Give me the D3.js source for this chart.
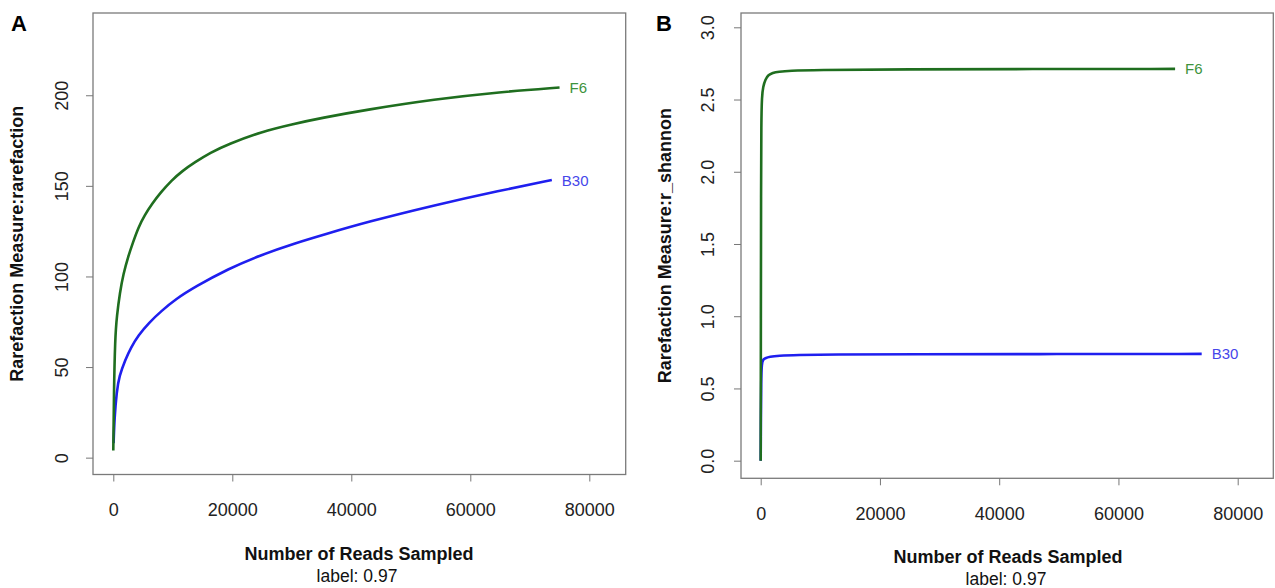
<!DOCTYPE html>
<html lang="en">

<head>
    <meta charset="UTF-8">
    <title>Rarefaction curves</title>
    <script src="https://d3js.org/d3.v7.min.js"></script>
    <style>
        body {
            margin: 0;
            padding: 0;
            background: #fff;
        }

        svg {
            display: block;
            font-family: "Liberation Sans", Arial, Helvetica, sans-serif;
        }
    </style>
</head>

<body>
    <svg id="chart" width="1275" height="588"></svg>

    <script>
        // ---- data ----
        const sampleNames = ["B30", "F6"];

        // panel A: rarefaction (observed OTUs)
        const readsA_F6 = [0, 100, 300, 600, 1100, 1700, 2500, 3300, 4200, 5300, 6500, 8000, 9800, 11500, 13700, 16300, 19300, 25000, 30000, 35000, 42500, 54000, 65000, 75000];
        const valsA_F6 = [4, 35, 66, 78.3, 91, 101.5, 111, 118.7, 127, 134, 140, 146.5, 153, 158, 163, 168.3, 173, 180, 184, 187.5, 192, 197.8, 201.8, 204.3];
        const readsA_B30 = [50, 200, 570, 1000, 2000, 3000, 4200, 6000, 8100, 10500, 13700, 19300, 24900, 30500, 35600, 42600, 53800, 65000, 73700];
        const valsA_B30 = [8, 22, 36.5, 45, 54, 61, 67.5, 74.5, 81, 87.5, 94.2, 104.2, 112, 118.3, 123.3, 130, 139.2, 147.4, 153.2];

        // panel B: r_shannon
        const readsB_F6 = [0, 30, 60, 100, 200, 400, 800, 1275, 2000, 2950, 5000, 8550, 24200, 45000, 69500];
        const valsB_F6 = [0, 1.0, 1.9, 2.35, 2.52, 2.59, 2.64, 2.67, 2.685, 2.693, 2.7, 2.705, 2.709, 2.711, 2.712];
        const readsB_B30 = [0, 30, 80, 170, 400, 720, 1500, 2950, 6000, 12000, 24200, 50000, 73960];
        const valsB_B30 = [0, 0.3, 0.55, 0.674, 0.7, 0.709, 0.72, 0.727, 0.732, 0.735, 0.737, 0.738, 0.739];

        const xTicks = [0, 20000, 40000, 60000, 80000];
        const yTicksA = [0, 50, 100, 150, 200];
        const yTicksB = [0, 0.5, 1.0, 1.5, 2.0, 2.5, 3.0];

        const lineColors = { F6: "#1f6e1f", B30: "#1f1fef" };
        const labelColors = { F6: "#3d933d", B30: "#4646ea" };

        const svg = d3.select("#chart");
        const zip = (xs, ys) => xs.map((x, i) => [x, ys[i]]);

        function drawPanel(cfg) {
            const x = d3.scaleLinear().domain(cfg.xDomain).range([cfg.left, cfg.right]);
            const y = d3.scaleLinear().domain(cfg.yDomain).range([cfg.bottom, cfg.top]);
            const g = svg.append("g");

            // plot box
            g.append("rect")
                .attr("x", cfg.left).attr("y", cfg.top)
                .attr("width", cfg.right - cfg.left).attr("height", cfg.bottom - cfg.top)
                .attr("fill", "none").attr("stroke", "#7a7a7a").attr("stroke-width", 1.3);

            // x axis
            const xAxis = g.append("g")
                .attr("transform", `translate(0,${cfg.bottom})`)
                .call(d3.axisBottom(x).tickValues(xTicks).tickSize(7).tickFormat(d3.format("d")));
            xAxis.select(".domain").remove();
            xAxis.selectAll("line").attr("stroke", "#777");
            xAxis.selectAll("text")
                .attr("y", 41.5).attr("dy", null)
                .attr("fill", "#222").style("font-size", "18px");

            // y axis, labels turned like R's default
            const yAxis = g.append("g")
                .attr("transform", `translate(${cfg.left},0)`)
                .call(d3.axisLeft(y).tickValues(cfg.yTicks).tickSize(7).tickFormat(cfg.yFormat));
            yAxis.select(".domain").remove();
            yAxis.selectAll("line").attr("stroke", "#777");
            yAxis.selectAll("text")
                .attr("x", 0).attr("y", 0).attr("dy", null)
                .attr("text-anchor", "middle")
                .attr("transform", `translate(${-cfg.yLabelOffset},0) rotate(-90)`)
                .attr("fill", "#222").style("font-size", "18px");

            // curves (b-spline to smooth out reading noise)
            const line = d3.line()
                .x(d => x(d[0]))
                .y(d => y(d[1]))
                .curve(d3.curveBasis);

            cfg.series.forEach(s => {
                const pts = zip(s.reads, s.vals);
                g.append("path")
                    .datum(pts)
                    .attr("d", line)
                    .attr("fill", "none")
                    .attr("stroke", lineColors[s.name])
                    .attr("stroke-width", 2.6)
                    .attr("stroke-linejoin", "round");

                const last = pts[pts.length - 1];
                g.append("text")
                    .attr("x", x(last[0]) + 10)
                    .attr("y", y(last[1]))
                    .attr("dominant-baseline", "central")
                    .attr("fill", labelColors[s.name])
                    .style("font-size", "15px")
                    .text(s.name);
            });

            // axis titles
            const midX = cfg.titleX;
            g.append("text")
                .attr("x", midX).attr("y", cfg.bottom + 85)
                .attr("text-anchor", "middle")
                .attr("fill", "#111")
                .style("font-size", "18px").style("font-weight", "bold")
                .text("Number of Reads Sampled");
            g.append("text")
                .attr("x", midX - 2).attr("y", cfg.bottom + 107)
                .attr("text-anchor", "middle")
                .attr("fill", "#111")
                .style("font-size", "17.5px")
                .text("label: 0.97");

            g.append("text")
                .attr("transform", `translate(${cfg.left - 70},${(cfg.top + cfg.bottom) / 2}) rotate(-90)`)
                .attr("text-anchor", "middle")
                .attr("fill", "#111")
                .style("font-size", "18px").style("font-weight", "bold")
                .text(cfg.yTitle);

            // panel letter
            g.append("text")
                .attr("x", cfg.letterX).attr("y", 31)
                .attr("fill", "#000")
                .style("font-size", "22px").style("font-weight", "bold")
                .text(cfg.letter);
        }

        // B30 drawn first so F6 sits on top, as in the original
        drawPanel({
            letter: "A", letterX: 11,
            left: 93, right: 625.7, top: 13, bottom: 474.5,
            xDomain: [-3412, 86118], yDomain: [-9.3, 245.4],
            yTicks: yTicksA, yFormat: d3.format("d"), yLabelOffset: 25,
            titleX: 359,
            yTitle: "Rarefaction Measure:rarefaction",
            series: [
                { name: sampleNames[0], reads: readsA_B30, vals: valsA_B30 },
                { name: sampleNames[1], reads: readsA_F6, vals: valsA_F6 }
            ]
        });

        drawPanel({
            letter: "B", letterX: 656,
            left: 741, right: 1273.3, top: 13, bottom: 478.3,
            xDomain: [-3304, 85971], yDomain: [-0.122, 3.099],
            yTicks: yTicksB, yFormat: d3.format(".1f"), yLabelOffset: 27,
            titleX: 1008,
            yTitle: "Rarefaction Measure:r_shannon",
            series: [
                { name: sampleNames[0], reads: readsB_B30, vals: valsB_B30 },
                { name: sampleNames[1], reads: readsB_F6, vals: valsB_F6 }
            ]
        });
    </script>

</body>

</html>
